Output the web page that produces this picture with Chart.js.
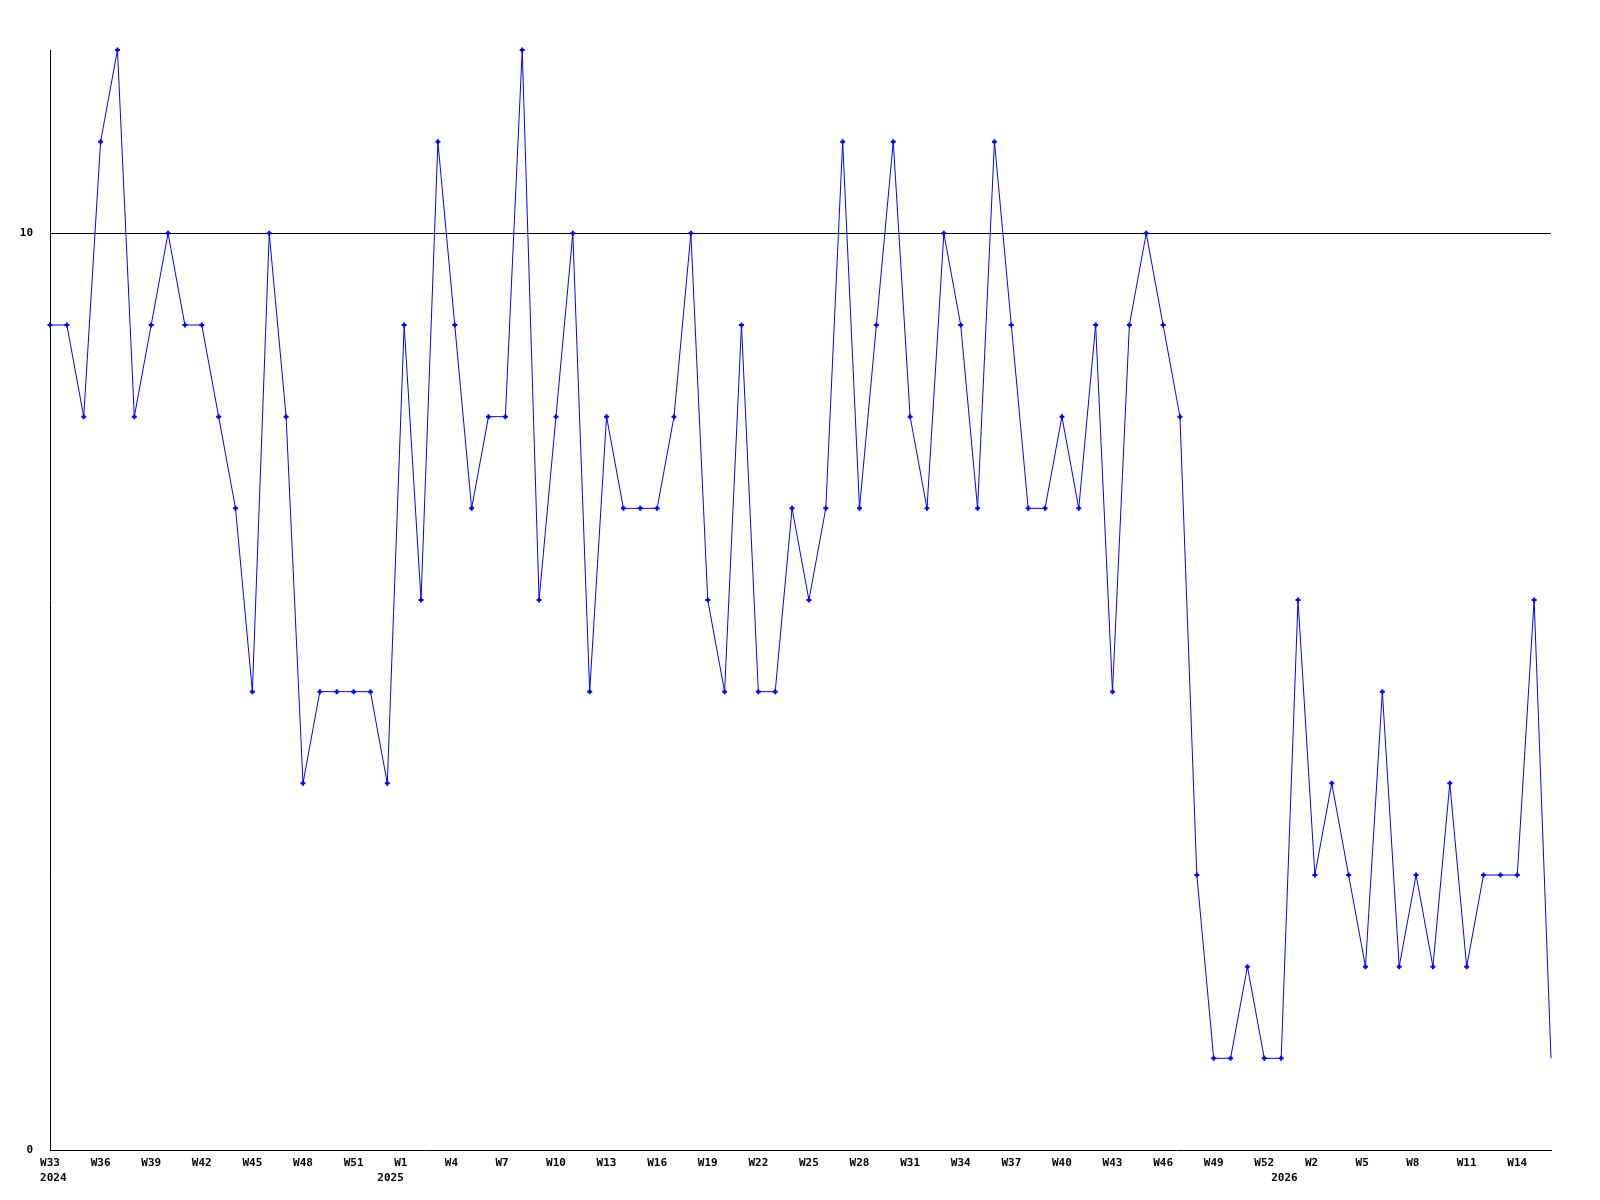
<!DOCTYPE html>
<html lang="en">
<head>
    <meta charset="UTF-8">
    <title>Weekly count</title>
    <script src="https://cdn.jsdelivr.net/npm/chart.js"></script>
    <style>
        body { margin: 0; background: #fff; }
        canvas { display: block; }
    </style>
</head>
<body>
    <canvas id="weekChart" width="1600" height="1200"></canvas>

    <script>
        // week runs: [year, first week, last week]
        const weekRuns = [[2024, 33, 53], [2025, 1, 53], [2026, 1, 16]];

        // one value per week
        const values = [
            9, 9, 8, 11, 12, 8, 9, 10, 9, 9,
            8, 7, 5, 10, 8, 4, 5, 5, 5, 5,
            4, 9, 6, 11, 9, 7, 8, 8, 12, 6,
            8, 10, 5, 8, 7, 7, 7, 8, 10, 6,
            5, 9, 5, 5, 7, 6, 7, 11, 7, 9,
            11, 8, 7, 10, 9, 7, 11, 9, 7, 7,
            8, 7, 9, 5, 9, 10, 9, 8, 3, 1,
            1, 2, 1, 1, 6, 3, 4, 3, 2, 5,
            2, 3, 2, 4, 2, 3, 3, 3, 6, 1
        ];

        const yTicks = [0, 10];

        // year labels sit on the week that holds Jan 1
        const yearMarks = { 0: '2024', 20: '2025', 73: '2026' };

        const weekLabels = [];
        weekRuns.forEach(([year, from, to]) => {
            for (let w = from; w <= to; w++) weekLabels.push('W' + w);
        });

        const font = { family: 'DejaVu Sans Mono', size: 11, weight: 'bold', lineHeight: 1.36 };

        const ctx = document.getElementById('weekChart').getContext('2d');
        new Chart(ctx, {
            type: 'line',
            data: {
                labels: weekLabels,
                datasets: [{
                    data: values,
                    borderColor: '#0000ff',
                    backgroundColor: '#0000ff',
                    borderWidth: 1,
                    tension: 0,
                    clip: false,
                    pointStyle: 'cross',
                    pointBorderWidth: 2,
                    pointRadius: c => c.dataIndex === values.length - 1 ? 0 : 2.5,
                    pointHoverRadius: 0
                }]
            },
            options: {
                responsive: false,
                animation: false,
                layout: { padding: { top: 50, right: 49, left: 0, bottom: 0 } },
                plugins: { legend: { display: false }, tooltip: { enabled: false } },
                scales: {
                    x: {
                        offset: false,
                        grid: { display: false, drawTicks: false },
                        border: { display: true, color: '#000', width: 1 },
                        afterFit: s => { s.height = 50; },
                        ticks: {
                            autoSkip: false,
                            maxRotation: 0,
                            padding: 6,
                            color: '#000',
                            font: font,
                            callback: function (v, i) {
                                // pad to 3 chars so text starts ~10px left of the point
                                const wk = i % 3 === 0 ? weekLabels[i].padEnd(3, ' ') : '';
                                const yr = yearMarks[i] ? ' ' + yearMarks[i] : '';
                                return yr ? [wk, yr] : wk;
                            }
                        }
                    },
                    y: {
                        min: 0,
                        max: 12,
                        afterBuildTicks: axis => { axis.ticks = yTicks.map(v => ({ value: v })); },
                        afterFit: s => { s.width = 50; },
                        grid: {
                            drawTicks: false,
                            color: c => c.tick && c.tick.value === 10 ? '#000' : 'rgba(0,0,0,0)',
                            lineWidth: 1
                        },
                        border: { display: true, color: '#000', width: 1 },
                        ticks: {
                            padding: 17,
                            color: '#000',
                            font: font
                        }
                    }
                }
            }
        });
    </script>
</body>
</html>
